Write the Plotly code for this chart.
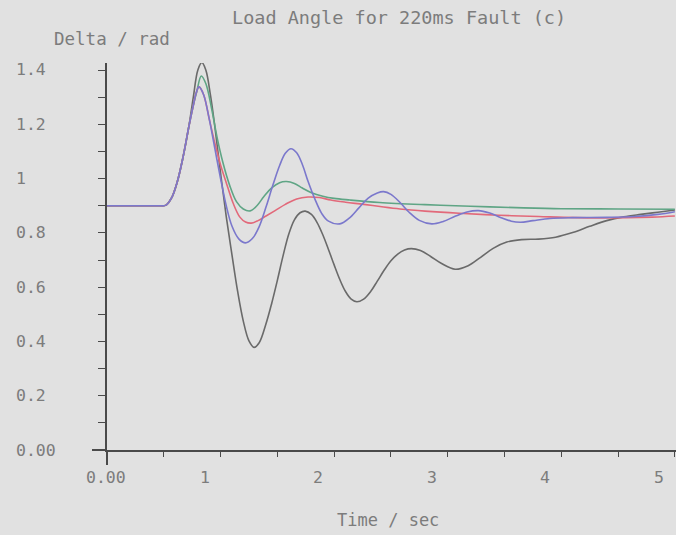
import plotly.graph_objects as go

# Load angle (rad) against time (s) for four damping cases
t_grey = [0.00, 0.25, 0.45, 0.52, 0.57, 0.62, 0.67, 0.72, 0.76, 0.80, 0.835, 0.87, 0.91, 0.95,
          1.00, 1.05, 1.10, 1.15, 1.20, 1.25, 1.295, 1.34, 1.40, 1.45, 1.50, 1.55, 1.60, 1.65,
          1.70, 1.745, 1.80, 1.85, 1.90, 1.95, 2.00, 2.05, 2.10, 2.15, 2.20, 2.26, 2.32, 2.38,
          2.44, 2.50, 2.56, 2.62, 2.68, 2.76, 2.85, 2.95, 3.066, 3.18, 3.29, 3.40, 3.52, 3.65,
          3.80, 3.95, 4.10, 4.25, 4.40, 4.55, 4.70, 4.85, 5.00]
d_grey = [0.900, 0.900, 0.900, 0.902, 0.93, 0.99, 1.08, 1.19, 1.30, 1.40, 1.428, 1.40, 1.31, 1.19,
          1.02, 0.86, 0.72, 0.585, 0.475, 0.402, 0.378, 0.395, 0.465, 0.54, 0.625, 0.715, 0.795, 0.848,
          0.874, 0.880, 0.868, 0.838, 0.793, 0.739, 0.682, 0.628, 0.584, 0.556, 0.546, 0.556, 0.583, 0.622,
          0.662, 0.697, 0.722, 0.737, 0.742, 0.735, 0.713, 0.686, 0.666, 0.679, 0.710, 0.743, 0.766, 0.775,
          0.777, 0.784, 0.801, 0.824, 0.845, 0.859, 0.868, 0.876, 0.884]

t_blue = [0.00, 0.25, 0.45, 0.52, 0.57, 0.62, 0.67, 0.72, 0.76, 0.785, 0.81, 0.85, 0.90, 0.95,
          1.00, 1.05, 1.10, 1.16, 1.22, 1.28, 1.34, 1.40, 1.46, 1.52, 1.57, 1.62, 1.67, 1.72,
          1.77, 1.83, 1.89, 1.95, 2.05, 2.13, 2.22, 2.30, 2.38, 2.435, 2.50, 2.58, 2.66, 2.75,
          2.86, 2.96, 3.07, 3.17, 3.27, 3.37, 3.47, 3.56, 3.64, 3.75, 3.90, 4.10, 4.40, 4.65,
          4.85, 5.00]
d_blue = [0.900, 0.900, 0.900, 0.902, 0.93, 0.99, 1.08, 1.19, 1.27, 1.315, 1.338, 1.31, 1.22, 1.11,
          1.00, 0.90, 0.825, 0.778, 0.763, 0.779, 0.823, 0.895, 0.975, 1.048, 1.093, 1.110, 1.095, 1.052,
          0.99, 0.925, 0.872, 0.843, 0.833, 0.853, 0.893, 0.928, 0.947, 0.952, 0.942, 0.912, 0.876, 0.846,
          0.833, 0.842, 0.862, 0.877, 0.882, 0.873, 0.856, 0.843, 0.839, 0.845, 0.853, 0.856, 0.857, 0.860,
          0.868, 0.878]

t_green = [0.00, 0.25, 0.45, 0.52, 0.57, 0.62, 0.67, 0.72, 0.76, 0.79, 0.83, 0.87, 0.92, 0.97,
           1.02, 1.08, 1.14, 1.20, 1.26, 1.32, 1.38, 1.45, 1.52, 1.58, 1.65, 1.72, 1.80, 1.90,
           2.00, 2.14, 2.40, 2.80, 3.20, 3.60, 4.00, 4.50, 5.00]
d_green = [0.900, 0.900, 0.900, 0.902, 0.93, 0.99, 1.08, 1.19, 1.27, 1.32, 1.378, 1.35, 1.26, 1.15,
           1.06, 0.975, 0.915, 0.888, 0.881, 0.90, 0.933, 0.966, 0.985, 0.989, 0.982, 0.965, 0.948, 0.935,
           0.927, 0.921, 0.912, 0.904, 0.898, 0.893, 0.889, 0.888, 0.887]

t_red = [0.00, 0.25, 0.45, 0.52, 0.57, 0.62, 0.67, 0.72, 0.76, 0.785, 0.81, 0.85, 0.90, 0.95,
         1.00, 1.05, 1.11, 1.17, 1.22, 1.27, 1.33, 1.40, 1.48, 1.57, 1.67, 1.77, 1.87, 1.97,
         2.10, 2.26, 2.42, 2.58, 2.80, 3.10, 3.45, 3.80, 4.30, 4.80, 5.00]
d_red = [0.900, 0.900, 0.900, 0.902, 0.93, 0.99, 1.08, 1.19, 1.27, 1.315, 1.338, 1.31, 1.22, 1.13,
         1.05, 0.985, 0.91, 0.858, 0.84, 0.836, 0.845, 0.862, 0.882, 0.905, 0.925, 0.932, 0.930, 0.921,
         0.913, 0.905, 0.896, 0.888, 0.880, 0.872, 0.865, 0.860, 0.855, 0.858, 0.862]

x_tick_vals = [0, 1, 2, 3, 4, 5]
x_tick_text = ["0.00", "1", "2", "3", "4", "5"]
y_tick_vals = [0, 0.2, 0.4, 0.6, 0.8, 1.0, 1.2, 1.4]
y_tick_text = ["0.00", "0.2", "0.4", "0.6", "0.8", "1", "1.2", "1.4"]

W, H = 676, 535
BG = "#e1e1e1"
AXIS = "#4a4a4a"
TXT = "#7c7c7c"
FONT = "DejaVu Sans Mono"

# plot area in pixels
L, R, T, B = 107, 676, 63, 450
X_MAX = 5.01
Y_MAX = 1.4258

fig = go.Figure()
series = [
    (t_grey, d_grey, "#6a6a6a"),
    (t_green, d_green, "#5fa585"),
    (t_red, d_red, "#e2697a"),
    (t_blue, d_blue, "#7b78cc"),
]
for tx, dy, col in series:
    fig.add_trace(go.Scatter(x=tx, y=dy, mode="lines",
                             line=dict(color=col, width=1.6, shape="spline", smoothing=1.0),
                             hoverinfo="skip", showlegend=False, cliponaxis=False))

fig.update_layout(
    width=W, height=H,
    margin=dict(l=0, r=0, t=0, b=0),
    paper_bgcolor=BG, plot_bgcolor=BG,
    showlegend=False,
    xaxis=dict(domain=[L / W, R / W], range=[0, X_MAX], showgrid=False, zeroline=False,
               showline=True, linecolor=AXIS, linewidth=2,
               tickmode="array", tickvals=[0.5 * i for i in range(11)],
               ticks="outside", ticklen=5, tickwidth=1, tickcolor=AXIS,
               showticklabels=False),
    yaxis=dict(domain=[(H - B) / H, (H - T) / H], range=[0, Y_MAX], showgrid=False, zeroline=False,
               showline=True, linecolor=AXIS, linewidth=2,
               tickmode="linear", tick0=0, dtick=0.1,
               ticks="outside", ticklen=7, tickwidth=1, tickcolor=AXIS,
               showticklabels=False),
)

# axis lines running past the origin
fig.add_shape(type="line", xref="paper", yref="paper",
              x0=92 / W, x1=L / W, y0=(H - B) / H, y1=(H - B) / H,
              line=dict(color=AXIS, width=2))
fig.add_shape(type="line", xref="paper", yref="paper",
              x0=L / W, x1=L / W, y0=(H - B) / H, y1=(H - 465) / H,
              line=dict(color=AXIS, width=2))

# tick labels
for v, s in zip(x_tick_vals, x_tick_text):
    fig.add_annotation(x=v, y=(H - 477) / H, xref="x", yref="paper", text=s,
                       showarrow=False, xanchor="left", yanchor="middle", xshift=-23,
                       font=dict(family=FONT, size=16.5, color=TXT))
for v, s in zip(y_tick_vals, y_tick_text):
    fig.add_annotation(x=14 / W, y=v, xref="paper", yref="y", text=s,
                       showarrow=False, xanchor="left", yanchor="middle",
                       font=dict(family=FONT, size=16.5, color=TXT))

# titles
fig.add_annotation(x=399 / W, y=(H - 17) / H, xref="paper", yref="paper",
                   text="Load Angle for 220ms Fault (c)", showarrow=False,
                   xanchor="center", yanchor="middle",
                   font=dict(family=FONT, size=18.5, color=TXT))
fig.add_annotation(x=52 / W, y=(H - 39) / H, xref="paper", yref="paper",
                   text="Delta / rad", showarrow=False,
                   xanchor="left", yanchor="middle",
                   font=dict(family=FONT, size=17.5, color=TXT))
fig.add_annotation(x=388 / W, y=(H - 520) / H, xref="paper", yref="paper",
                   text="Time / sec", showarrow=False,
                   xanchor="center", yanchor="middle",
                   font=dict(family=FONT, size=17, color=TXT))

fig.write_html("out.html")
